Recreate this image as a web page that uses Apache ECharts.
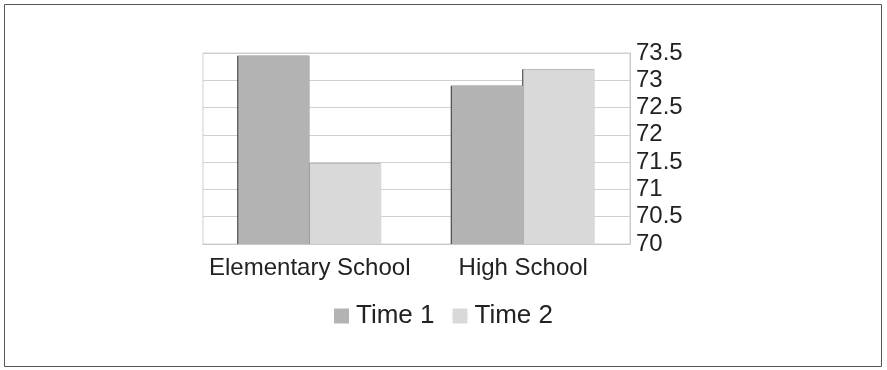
<!DOCTYPE html>
<html lang="en">
<head>
    <meta charset="UTF-8">
    <title>Time 1 vs Time 2</title>
    <script src="https://cdn.jsdelivr.net/npm/echarts@6/dist/echarts.min.js"></script>
    <style>
        html, body {margin: 0; padding: 0; background: #fff;}
        #main {width: 887px; height: 370px;}
    </style>
</head>
<body>
    <div id="main"></div>
    <script>
        var categories = ['Elementary School', 'High School'];
        var time1 = [73.45, 72.9];
        var time2 = [71.48, 73.2];

        var myChart = echarts.init(document.getElementById('main'));
        var option = {
            animation: false,
            textStyle: {fontFamily: 'Liberation Sans'},
            graphic: [{
                type: 'rect',
                shape: {x: 4.5, y: 4.5, width: 877, height: 362},
                style: {fill: 'none', stroke: '#555', lineWidth: 1}
            }],
            legend: {
                data: ['Time 1', 'Time 2'],
                top: 298,
                left: 'center',
                itemWidth: 15,
                itemHeight: 15,
                itemGap: 18,
                icon: 'rect',
                textStyle: {fontSize: 26, color: '#222', fontFamily: 'Liberation Sans', padding: [0, 0, 0, 2]}
            },
            grid: {left: 203, right: 257, top: 53, bottom: 126, show: true, borderColor: '#d0d0d0', borderWidth: 1},
            xAxis: {
                type: 'category',
                data: categories,
                axisTick: {show: false},
                axisLine: {lineStyle: {color: '#c8c8c8'}},
                axisLabel: {fontSize: 24, color: '#222', margin: 12, interval: 0}
            },
            yAxis: {
                type: 'value',
                position: 'right',
                min: 70,
                max: 73.5,
                interval: 0.5,
                axisLine: {show: true, lineStyle: {color: '#c8c8c8'}},
                axisTick: {show: false},
                splitLine: {lineStyle: {color: '#cfcfcf'}},
                axisLabel: {fontSize: 24, color: '#222', margin: 6}
            },
            series: [{
                name: 'Time 1',
                type: 'bar',
                z: 3,
                data: time1,
                barGap: '0%',
                barCategoryGap: '33%',
                itemStyle: {color: '#b3b3b3', shadowColor: '#333', shadowOffsetX: -1, shadowBlur: 0}
            }, {
                name: 'Time 2',
                type: 'bar',
                z: 2,
                data: time2,
                itemStyle: {color: '#d9d9d9', shadowColor: '#333', shadowOffsetX: -1, shadowBlur: 0}
            }]
        };
        myChart.setOption(option);
    </script>
</body>
</html>
